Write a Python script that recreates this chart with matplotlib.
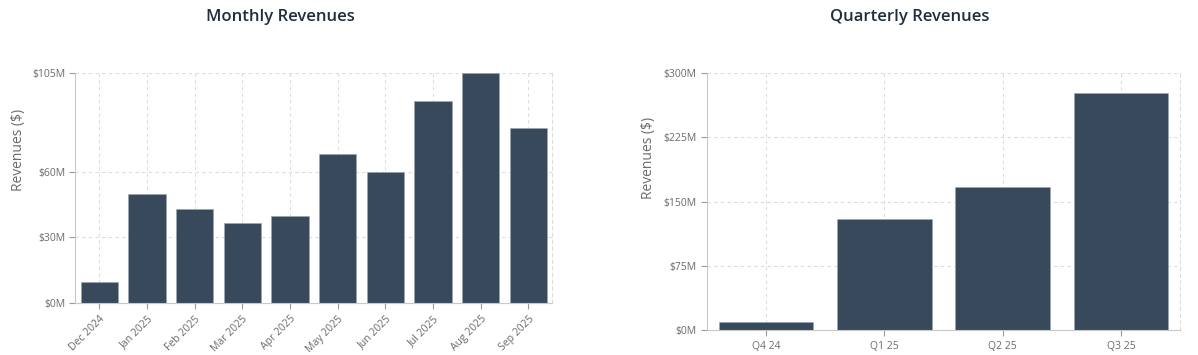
import matplotlib.pyplot as plt
from matplotlib.ticker import FuncFormatter

# monthly data (in $M)
months = ['Dec 2024', 'Jan 2025', 'Feb 2025', 'Mar 2025', 'Apr 2025',
          'May 2025', 'Jun 2025', 'Jul 2025', 'Aug 2025', 'Sep 2025']
monthly_rev = [9.5, 50.0, 42.8, 36.7, 39.6, 67.9, 60.0, 92.2, 105.0, 80.0]
monthly_ticks = [0, 30, 60, 105]

# quarterly data (in $M)
quarters = ['Q4 24', 'Q1 25', 'Q2 25', 'Q3 25']
quarterly_rev = [9.8, 129.8, 167.6, 276.8]
quarterly_ticks = [0, 75, 150, 225, 300]

BAR = '#37495a'
TXT = '#6b6b6b'
GRID = '#dcdcdc'

plt.rcParams['font.family'] = ['Open Sans', 'DejaVu Sans']

fig = plt.figure(figsize=(11.98, 3.55), dpi=100)
ax1 = fig.add_axes([0.063, 0.146, 0.398, 0.648])
ax2 = fig.add_axes([0.590, 0.070, 0.395, 0.724])

money = FuncFormatter(lambda v, p: f'${v:.0f}M')


def style(ax, ticks):
    ax.set_yticks(ticks)
    ax.set_ylim(0, ticks[-1])
    ax.yaxis.set_major_formatter(money)
    ax.grid(True, color=GRID, linestyle=(0, (3, 3)), linewidth=0.8)
    ax.set_axisbelow(True)
    ax.spines['top'].set_visible(False)
    ax.spines['right'].set_color(GRID)
    ax.spines['right'].set_linestyle((0, (3, 3)))
    ax.spines['right'].set_linewidth(0.8)
    for s in ['left', 'bottom']:
        ax.spines[s].set_color('#c8c8c8')
    ax.tick_params(colors='#9a9a9a', labelcolor=TXT, labelsize=7.5, length=4)
    ax.set_ylabel('Revenues ($)', color=TXT, fontsize=10)


ax1.bar(range(len(months)), monthly_rev, width=0.78, color=BAR,
        edgecolor='#9aa8b4', linewidth=0.4)
ax1.set_xticks(range(len(months)))
ax1.set_xticklabels(months, rotation=45, ha='right', rotation_mode='anchor')
ax1.set_xlim(-0.5, len(months) - 0.5)
style(ax1, monthly_ticks)
ax1.yaxis.set_label_coords(-0.103, 0.665)

ax2.bar(range(len(quarters)), quarterly_rev, width=0.8, color=BAR,
        edgecolor='#9aa8b4', linewidth=0.4)
ax2.set_xticks(range(len(quarters)))
ax2.set_xticklabels(quarters)
ax2.set_xlim(-0.5, len(quarters) - 0.5)
style(ax2, quarterly_ticks)
ax2.yaxis.set_label_coords(-0.108, 0.67)

# titles sit higher than the axes, centred on their own panels
fig.text(0.234, 0.953, 'Monthly Revenues', ha='center', va='center',
         fontsize=12, fontweight='semibold', color='#1f2d3d')
fig.text(0.759, 0.953, 'Quarterly Revenues', ha='center', va='center',
         fontsize=12, fontweight='semibold', color='#1f2d3d')

fig.savefig('out.png', dpi=100, facecolor='white')
